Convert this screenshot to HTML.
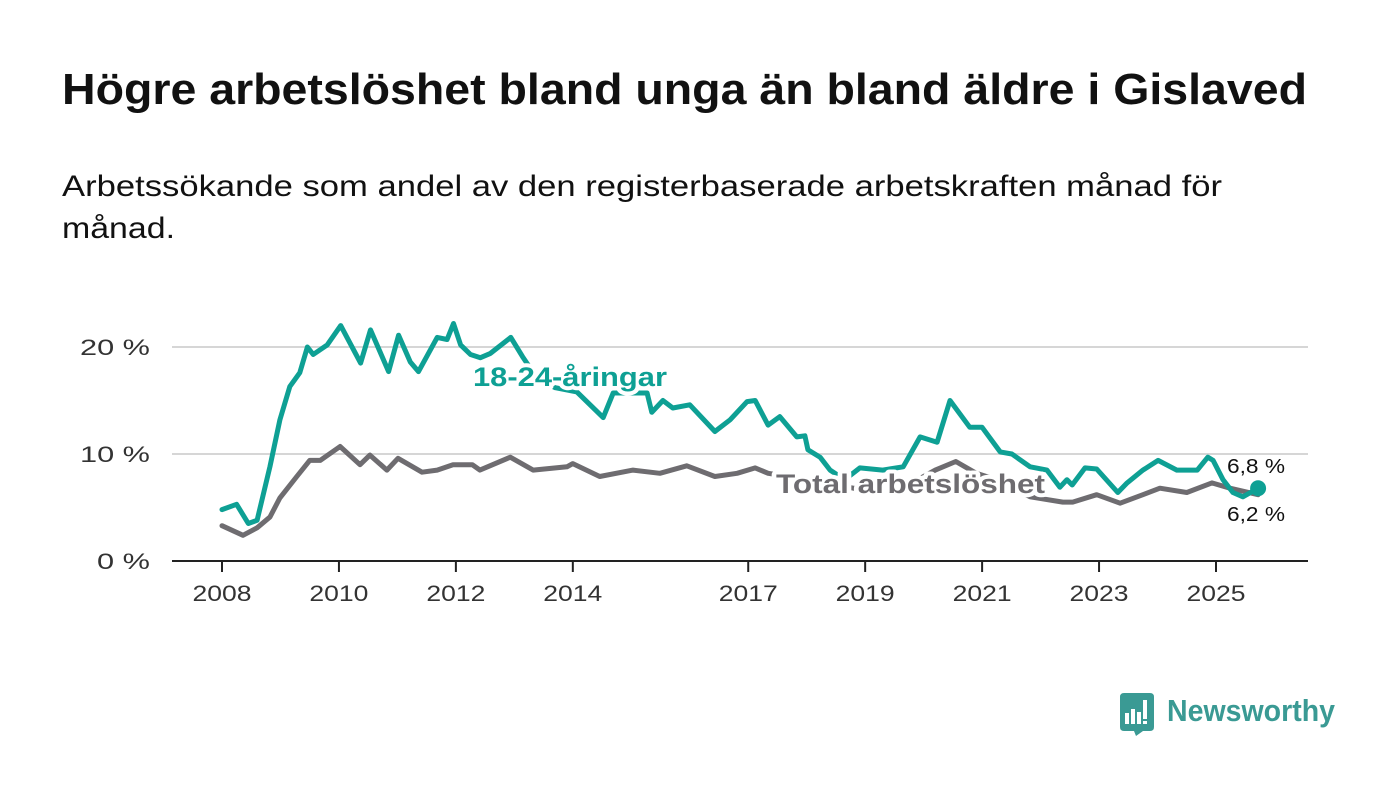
<!DOCTYPE html>
<html><head><meta charset="utf-8"><style>
html,body{margin:0;padding:0;background:#fff;}
svg{display:block;font-family:"Liberation Sans",sans-serif;}
</style></head><body>
<svg id="chart" width="1400" height="794" viewBox="0 0 1400 794" xmlns="http://www.w3.org/2000/svg">
<text x="62" y="104" font-size="44" font-weight="bold" fill="#111" textLength="1245" lengthAdjust="spacingAndGlyphs">Högre arbetslöshet bland unga än bland äldre i Gislaved</text>
<text x="62" y="196" font-size="30" fill="#111" textLength="1160" lengthAdjust="spacingAndGlyphs">Arbetssökande som andel av den registerbaserade arbetskraften månad för</text>
<text x="62" y="238" font-size="30" fill="#111" textLength="113" lengthAdjust="spacingAndGlyphs">månad.</text>
<g id="grid"></g>
<g id="yaxis"></g>
<g id="xaxis"></g>
<g id="series"></g>
<g id="labels"></g>
<g>
<path d="M1124 693 H1150 Q1154 693 1154 697 V727 Q1154 731 1150 731 H1143 L1136 736 L1134 731 H1124 Q1120 731 1120 727 V697 Q1120 693 1124 693 Z" fill="#3a9a94"/>
<rect x="1125" y="713" width="4" height="11" fill="#fff"/><rect x="1131" y="709" width="4" height="15" fill="#fff"/><rect x="1137" y="712" width="4" height="12" fill="#fff"/><rect x="1143" y="700" width="4" height="19" fill="#fff"/><rect x="1143" y="721" width="4" height="3" fill="#fff"/>
<text x="1167" y="721" font-size="31" font-weight="bold" fill="#3a9a94" textLength="168" lengthAdjust="spacingAndGlyphs">Newsworthy</text>
</g>
</svg>
<script>
const youthDates=[2008.0,2008.25,2008.45,2008.6,2008.82,2008.99,2009.16,2009.33,2009.46,2009.56,2009.8,2010.03,2010.37,2010.54,2010.85,2011.02,2011.22,2011.36,2011.68,2011.85,2011.96,2012.08,2012.25,2012.42,2012.59,2012.94,2013.14,2013.4,2013.7,2014.07,2014.52,2014.69,2015.27,2015.35,2015.54,2015.71,2016.0,2016.43,2016.69,2016.98,2017.12,2017.34,2017.54,2017.83,2017.97,2018.02,2018.23,2018.4,2018.65,2018.91,2019.3,2019.65,2019.94,2020.23,2020.45,2020.79,2021.0,2021.31,2021.51,2021.82,2022.11,2022.33,2022.45,2022.54,2022.76,2022.96,2023.32,2023.48,2023.75,2024.01,2024.33,2024.68,2024.86,2024.95,2025.12,2025.29,2025.46,2025.72];
const youthValues=[4.8,5.3,3.5,3.8,8.8,13.2,16.3,17.6,20,19.3,20.2,22,18.5,21.6,17.7,21.1,18.6,17.7,20.9,20.7,22.2,20.2,19.3,19.0,19.4,20.9,19.1,17.0,16.2,15.8,13.4,15.7,15.7,13.9,15.0,14.3,14.6,12.1,13.2,14.9,15.0,12.7,13.5,11.6,11.7,10.4,9.7,8.5,7.6,8.7,8.5,8.8,11.6,11.1,15.0,12.5,12.5,10.2,10.0,8.8,8.5,6.9,7.6,7.1,8.7,8.6,6.4,7.3,8.5,9.4,8.5,8.5,9.7,9.4,7.6,6.4,6.0,6.8];
const totalDates=[2008.0,2008.36,2008.6,2008.82,2008.99,2009.28,2009.5,2009.68,2010.02,2010.36,2010.53,2010.82,2011.01,2011.42,2011.68,2011.95,2012.28,2012.41,2012.93,2013.32,2013.9,2014.0,2014.46,2015.03,2015.49,2015.95,2016.43,2016.81,2017.12,2017.34,2017.8,2018.3,2018.8,2019.3,2019.8,2020.2,2020.55,2020.9,2021.3,2021.82,2022.38,2022.55,2022.96,2023.36,2023.75,2024.04,2024.5,2024.93,2025.24,2025.72];
const totalValues=[3.3,2.4,3.1,4.1,5.9,7.9,9.4,9.4,10.7,9.0,9.9,8.5,9.6,8.3,8.5,9.0,9.0,8.5,9.7,8.5,8.8,9.1,7.9,8.5,8.2,8.9,7.9,8.2,8.7,8.2,7.8,7.3,6.8,6.8,7.3,8.5,9.3,8.2,7.5,6.0,5.5,5.5,6.2,5.4,6.2,6.8,6.4,7.3,6.8,6.2];
const xTicks=[2008,2010,2012,2014,2017,2019,2021,2023,2025];
const yTicks=[0,10,20];
const yTickLabels=["0 %","10 %","20 %"];
const endLabels=["6,8 %","6,2 %"];

const NS="http://www.w3.org/2000/svg";
const x=t=>222+(t-2008)*58.47;
const y=v=>561-v*10.7;
function mk(tag,attrs,parent){const e=document.createElementNS(NS,tag);for(const k in attrs)e.setAttribute(k,attrs[k]);parent.appendChild(e);return e;}
const grid=document.getElementById('grid'),ya=document.getElementById('yaxis'),xa=document.getElementById('xaxis'),ser=document.getElementById('series'),lab=document.getElementById('labels');
yTicks.forEach((v,i)=>{
  if(v>0){const g=mk('line',{x1:172,x2:1308,y1:y(v),y2:y(v),stroke:'#d6d6d6','stroke-width':2},grid);
  
  }
  const t=mk('text',{x:150,y:y(v)+8,'font-size':22,fill:'#333','text-anchor':'end',textLength:(yTickLabels[i].length*17+2),lengthAdjust:'spacingAndGlyphs'},ya);t.textContent=yTickLabels[i];
  
  
});
const ax=mk('line',{x1:172,x2:1308,y1:561,y2:561,stroke:'#222','stroke-width':2},xa);


xTicks.forEach(yr=>{
  const tk=mk('line',{x1:x(yr),x2:x(yr),y1:561,y2:572,stroke:'#222','stroke-width':2},xa);
  
  
  const t=mk('text',{x:x(yr),y:601,'font-size':22,fill:'#333','text-anchor':'middle',textLength:59,lengthAdjust:'spacingAndGlyphs'},xa);t.textContent=yr;
  
  
});
function line(d,v,color,name){
  const pts=d.map((t,i)=>x(t).toFixed(1)+','+y(v[i]).toFixed(1)).join(' ');
  const p=mk('polyline',{points:pts,fill:'none',stroke:color,'stroke-width':5,'stroke-linejoin':'round','stroke-linecap':'round'},ser);
  
  
}
line(totalDates,totalValues,'#6e6c70','total-line');
line(youthDates,youthValues,'#0ea094','youth-line');
const dot=mk('circle',{cx:x(youthDates[youthDates.length-1]),cy:y(youthValues[youthValues.length-1]),r:8,fill:'#0ea094'},ser);


function label(txt,px,py,color,size,bold,name,w){
  const t=mk('text',{x:px,y:py,'font-size':size,'font-weight':bold?'bold':'normal',fill:color,stroke:'#fff','stroke-width':bold?8:5,'paint-order':'stroke','stroke-linejoin':'round'},lab);
  if(w){t.setAttribute('textLength',w);t.setAttribute('lengthAdjust','spacingAndGlyphs');}
  t.textContent=txt;
  
  
}
label('18-24-åringar',473,386,'#0ea094',27,true,'youth-series-label',194);
label('Total arbetslöshet',776,493,'#6e6c70',27,true,'total-series-label',269);
label(endLabels[0],1227,473,'#111',20,false,'youth-end-label',58);
label(endLabels[1],1227,521,'#111',20,false,'total-end-label',58);
</script>
</body></html>
